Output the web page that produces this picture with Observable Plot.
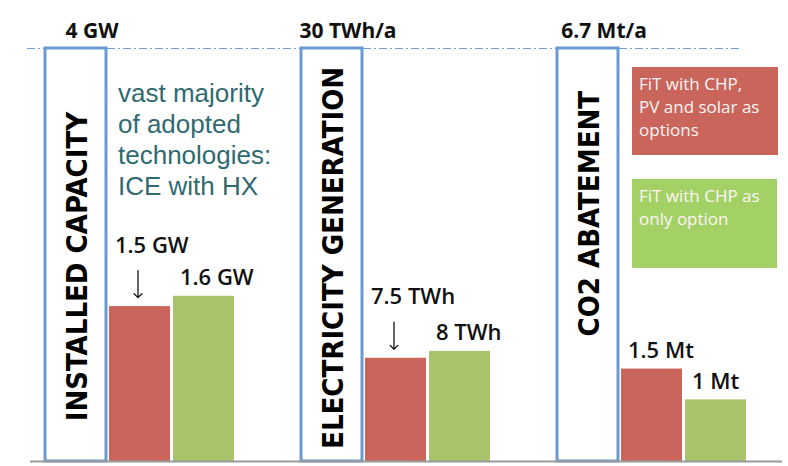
<!DOCTYPE html>
<html><head><meta charset="utf-8">
<script src="https://cdn.jsdelivr.net/npm/d3@7"></script>
<script src="https://cdn.jsdelivr.net/npm/@observablehq/plot@0.6"></script>
<style>
body{margin:0;background:#fff;}
#wrap{position:relative;width:788px;height:466px;overflow:hidden;}
.leg{position:absolute;color:#fdf6f4;font-family:"Open Sans",sans-serif;font-size:17px;line-height:23px;padding:5px 7px;box-sizing:border-box;white-space:pre-line;}
</style></head><body><div id="wrap"></div>
<script>
// ---- data ----
const groups = ["INSTALLED CAPACITY", "ELECTRICITY GENERATION", "CO2 ABATEMENT"];
const maxValues = [4, 30, 6.7];
const maxLabels = ["4 GW", "30 TWh/a", "6.7 Mt/a"];
const seriesNames = ["FiT with CHP, PV and solar as options", "FiT with CHP as only option"];
const legendLines = [["FiT with CHP,", "PV and solar as", "options"], ["FiT with CHP as", "only option"]];
const chpPvSolar = [1.5, 7.5, 1.5];
const chpOnly = [1.6, 8, 1];
const chpPvSolarLabels = ["1.5 GW", "7.5 TWh", "1.5 Mt"];
const chpOnlyLabels = ["1.6 GW", "8 TWh", "1 Mt"];
const pointed = [true, true, false];
const note = "vast majority\nof adopted\ntechnologies:\nICE with HX";

const colors = ["#C9655B", "#A9C36A"];
const legendColors = ["#C9655B", "#A3D166"];

// ---- derived tables ----
const boxes = groups.map((g, i) => ({key: g + "|max", g, share: 1, label: maxLabels[i]}));
const bars = groups.flatMap((g, i) => [
  {key: g + "|a", g, series: seriesNames[0], share: chpPvSolar[i] / maxValues[i], label: chpPvSolarLabels[i], arrow: pointed[i]},
  {key: g + "|b", g, series: seriesNames[1], share: chpOnly[i] / maxValues[i], label: chpOnlyLabels[i], arrow: false}
]);
const xDomain = groups.flatMap((g, i) => {
  const k = [g + "|max", g + "|a", g + "|b"];
  return i < groups.length - 1 ? k.concat(g + "|gap") : k;
});
// vertical placement of the rotated group titles inside each box (share of box height)
const titleMid = {"INSTALLED CAPACITY": 0.472, "ELECTRICITY GENERATION": 0.493, "CO2 ABATEMENT": 0.6};

const chart = Plot.plot({
  width: 788,
  height: 466,
  marginTop: 48,
  marginBottom: 5,
  marginLeft: 27,
  marginRight: 6,
  x: {domain: xDomain, range: [43, 747], paddingInner: 0.05, paddingOuter: 0, axis: null},
  y: {domain: [0, 1], axis: null},
  color: {domain: seriesNames, range: colors},
  style: {background: "transparent"},
  marks: [
    Plot.ruleY([1], {stroke: "#6f9fd6", strokeWidth: 1.2, strokeDasharray: "8,3,2,3", insetRight: 40}),
    Plot.barY(boxes, {x: "key", y: "share", fill: "white", stroke: "#6a9ad0", strokeWidth: 3}),
    Plot.barY(bars, {x: "key", y: "share", fill: "series"}),
    Plot.ruleY([0], {stroke: "#9a9a9a", strokeWidth: 2, insetLeft: 3}),
    Plot.text(boxes, {x: "key", y: "share", text: "label", dx: 16, dy: -11, lineAnchor: "bottom",
      fontSize: 21, fontWeight: 700, fontFamily: "Open Sans, sans-serif", fill: "#111"}),
    Plot.text(boxes, {x: "key", y: d => titleMid[d.g], text: "g", rotate: -90, dx: 1.5,
      fontSize: 29, fontWeight: 700, fontFamily: "'Liberation Sans Narrow', 'Arial Narrow', 'DejaVu Sans Condensed', sans-serif", fill: "#000"}),
    Plot.text(bars, {filter: d => !d.arrow, x: "key", y: "share", text: "label", textAnchor: "start", dx: -24, dy: -11,
      lineAnchor: "bottom", fontSize: 22, fontWeight: 600, fontFamily: "Open Sans, sans-serif", fill: "#111"}),
    Plot.text(bars, {filter: d => d.arrow, x: "key", y: "share", text: "label", textAnchor: "start", dx: -25, dy: -54,
      lineAnchor: "bottom", fontSize: 22, fontWeight: 600, fontFamily: "Open Sans, sans-serif", fill: "#111"}),
    Plot.vector(bars, {filter: d => d.arrow, x: "key", y: "share", length: 27, rotate: 180, anchor: "end",
      dx: -2, dy: -9, r: 2.5, stroke: "#111", strokeWidth: 1.3}),
    Plot.text([{key: groups[0] + "|a", text: note}], {x: "key", frameAnchor: "top", text: "text", textAnchor: "start",
      lineAnchor: "top", dx: -22, dy: 31, fontSize: 26, lineHeight: 1.2, fill: "#2f6a70",
      fontFamily: "'Liberation Sans', Arial, sans-serif"})
  ]
});

const wrap = document.getElementById("wrap");
wrap.appendChild(chart);

// legend (HTML overlay, top right)
const legendBoxes = [
  {left: 632, top: 67, width: 146, height: 88},
  {left: 632, top: 179, width: 145, height: 89}
];
seriesNames.forEach((s, i) => {
  const d = document.createElement("div");
  d.className = "leg";
  const b = legendBoxes[i];
  d.style.left = b.left + "px";
  d.style.top = b.top + "px";
  d.style.width = b.width + "px";
  d.style.height = b.height + "px";
  d.style.background = legendColors[i];
  d.textContent = legendLines[i].join("\n");
  d.title = s;
  wrap.appendChild(d);
});
</script>
</body></html>
